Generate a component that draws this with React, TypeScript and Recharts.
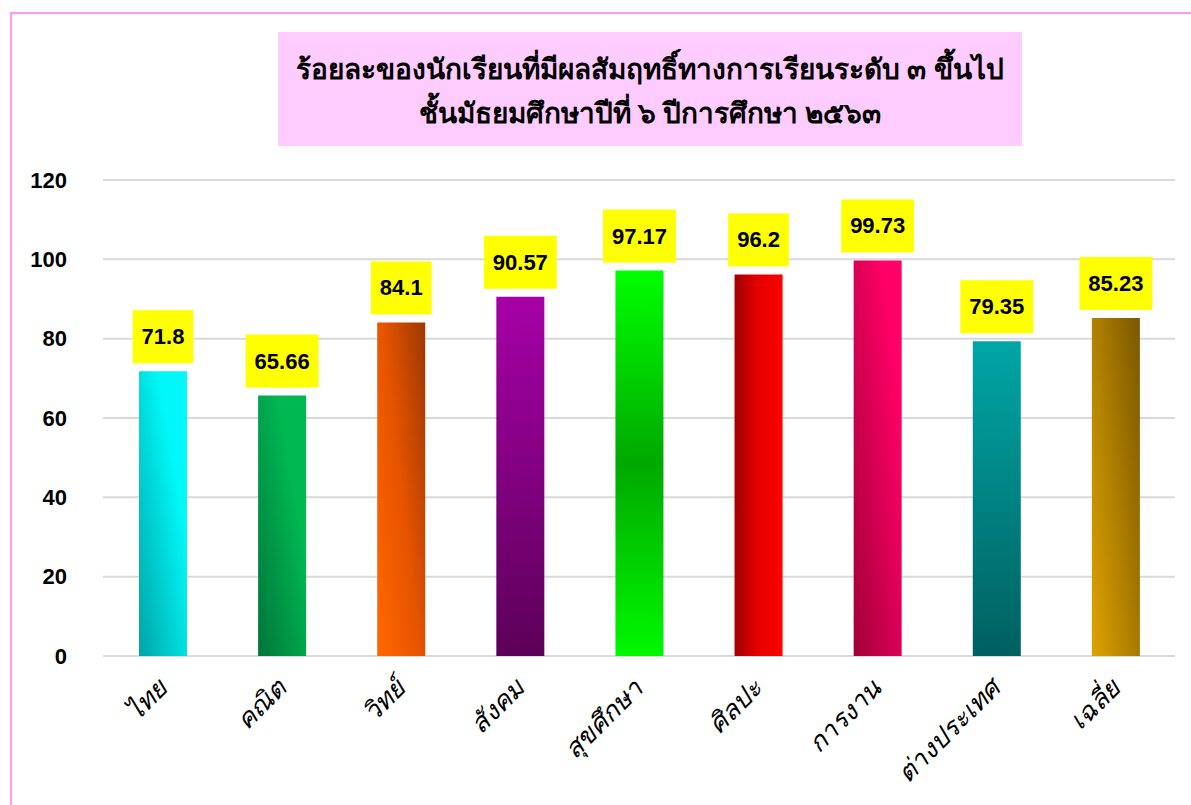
import React from 'react';
import { BarChart, Bar, XAxis, YAxis, CartesianGrid, Cell, LabelList } from 'recharts';

const subjects = ['ไทย', 'คณิต', 'วิทย์', 'สังคม', 'สุขศึกษา', 'ศิลปะ', 'การงาน', 'ต่างประเทศ', 'เฉลี่ย'];
const percents = [71.8, 65.66, 84.1, 90.57, 97.17, 96.2, 99.73, 79.35, 85.23];
const yTicks = [0, 20, 40, 60, 80, 100, 120];
const titleLines = [
  'ร้อยละของนักเรียนที่มีผลสัมฤทธิ์ทางการเรียนระดับ ๓ ขึ้นไป',
  'ชั้นมัธยมศึกษาปีที่ ๖ ปีการศึกษา ๒๕๖๓',
];

const data = subjects.map((name, i) => ({ name, value: percents[i] }));

// gradient per bar: [x1, y1, x2, y2, stops]
const GRADS: [number, number, number, number, [number, string][]][] = [
  [0, 1, 0.7, 0.3, [[0, '#00a3a6'], [1, '#00f8f8']]],
  [0, 1, 0.7, 0.3, [[0, '#00753a'], [1, '#00b852']]],
  [0, 0.9, 1, 0.1, [[0, '#ff6600'], [0.5, '#e65400'], [1, '#a33a00']]],
  [0, 0, 0, 1, [[0, '#a600a6'], [1, '#5c0058']]],
  [0, 0, 0, 1, [[0, '#00ff00'], [0.5, '#00a800'], [1, '#00f800']]],
  [0, 0, 1, 0, [[0, '#a00000'], [0.45, '#e20000'], [1, '#ff0000']]],
  [0, 1, 0.8, 0.2, [[0, '#a00038'], [1, '#ff0066']]],
  [0, 0, 0, 1, [[0, '#00a6a6'], [1, '#005f5f']]],
  [0, 0.9, 1, 0.1, [[0, '#d9a000'], [1, '#7f5a00']]],
];

const ValueBox = (props: any) => {
  const { x, y, width, value } = props;
  const text = String(value);
  const tw = text.replace('.', '').length * 12.2 + 6.1;
  const bw = tw + 18;
  const cx = x + width / 2;
  const bottom = y - 8;
  return (
    <g>
      <rect x={cx - bw / 2} y={bottom - 53} width={bw} height={53} fill="#ffff00" />
      <text
        x={cx}
        y={bottom - 26.5}
        textAnchor="middle"
        dominantBaseline="central"
        fontFamily="'Liberation Sans', Arial, sans-serif"
        fontWeight="bold"
        fontSize={22}
        fill="#000"
      >
        {text}
      </text>
    </g>
  );
};

const YTick = (props: any) => {
  const { y, payload } = props;
  return (
    <text
      x={67}
      y={y}
      textAnchor="end"
      dominantBaseline="central"
      fontFamily="'Liberation Sans', Arial, sans-serif"
      fontWeight="bold"
      fontSize={22}
      fill="#000"
    >
      {payload.value}
    </text>
  );
};

const XTick = (props: any) => {
  const { x, y, payload } = props;
  return (
    <g transform={`translate(${x + 6},${y + 26})`}>
      <text
        transform="rotate(-45)"
        textAnchor="end"
        fontFamily="'Noto Sans', sans-serif"
        fontStyle="italic"
        fontSize={26}
        fill="#000"
      >
        {payload.value}
      </text>
    </g>
  );
};

export default function App() {
  return (
    <div style={{ position: 'absolute', left: 0, top: 0, width: 1191, height: 805, overflow: 'hidden', background: '#fff' }}>
      <div
        style={{
          position: 'absolute',
          left: 10,
          top: 12,
          width: 1300,
          height: 900,
          border: '2px solid #ff99ff',
        }}
      />
      <div
        style={{
          position: 'absolute',
          left: 278,
          top: 32,
          width: 744,
          height: 114,
          background: '#ffccff',
          fontFamily: "'Noto Sans', sans-serif",
          fontWeight: 'bold',
          fontSize: 28,
          textAlign: 'center',
          color: '#000',
        }}
      >
        <div style={{ position: 'absolute', top: 14, width: '100%', lineHeight: '44px' }}>{titleLines[0]}</div>
        <div style={{ position: 'absolute', top: 58, width: '100%', lineHeight: '44px' }}>{titleLines[1]}</div>
      </div>
      <div style={{ position: 'absolute', left: 0, top: 0 }}>
        <BarChart
          width={1191}
          height={805}
          data={data}
          margin={{ top: 180, right: 16, bottom: 0, left: 0 }}
          barSize={48}
        >
          <defs>
            {GRADS.map(([x1, y1, x2, y2, stops], i) => (
              <linearGradient key={i} id={`g${i}`} x1={x1} y1={y1} x2={x2} y2={y2}>
                {stops.map(([o, c], j) => (
                  <stop key={j} offset={o} stopColor={c} />
                ))}
              </linearGradient>
            ))}
          </defs>
          <CartesianGrid vertical={false} stroke="#d9d9d9" strokeWidth={2} />
          <XAxis
            dataKey="name"
            axisLine={false}
            tickLine={false}
            tick={<XTick />}
            interval={0}
            height={149}
          />
          <YAxis
            domain={[0, 120]}
            ticks={yTicks}
            axisLine={false}
            tickLine={false}
            tick={<YTick />}
            width={103}
          />
          <Bar dataKey="value" isAnimationActive={false}>
            {data.map((_d, i) => (
              <Cell key={i} fill={`url(#g${i})`} />
            ))}
            <LabelList dataKey="value" content={<ValueBox />} />
          </Bar>
        </BarChart>
      </div>
    </div>
  );
}
